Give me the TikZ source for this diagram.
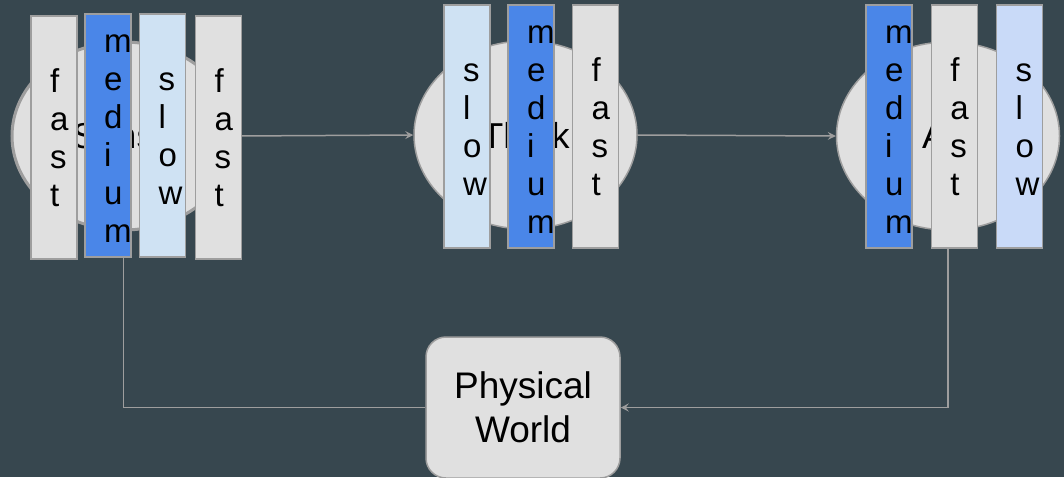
\documentclass[tikz,border=0pt]{standalone}
\usepackage{fontspec}
\setmainfont{Liberation Sans}
\usepackage{tikz}
\usetikzlibrary{arrows.meta,positioning,calc,shapes.geometric}
\definecolor{slate}{HTML}{37474F}
\definecolor{boxgray}{HTML}{E0E0E0}
\definecolor{edgegray}{HTML}{9E9E9E}
\definecolor{medblue}{HTML}{4A86E8}
\definecolor{paleblue}{HTML}{CFE2F3}
\definecolor{lightblue}{HTML}{C9DAF8}
\tikzstyle{stage}=[draw=edgegray,line width=1.5pt,fill=boxgray,ellipse,minimum width=223pt,minimum height=188pt,inner sep=0pt,font=\fontsize{36}{40}\selectfont]
\tikzstyle{bar}=[draw=edgegray,line width=1.5pt,minimum width=46pt,minimum height=243pt,inner xsep=19pt,inner ysep=0pt,text width=8pt,align=left,font=\fontsize{33}{38}\selectfont]
\tikzstyle{link}=[draw=edgegray,line width=1.5pt,-{Stealth[length=8pt,width=8pt,inset=3pt]}]
% first letter sits as high as an f
\newcommand{\tl}{\vphantom{f}}

\begin{document}
\begin{tikzpicture}[x=1pt,y=-1pt]
\useasboundingbox (0,0) rectangle (1064,477);
\fill[slate] (0,0) rectangle (1064,477);

% the three stages
\node [stage,line width=3pt] (sense) at (123.5,136) {Sense};
\node [stage] (think) at (525.5,135) {Think};
\node [stage] (act) at (948,136) {Act};

\node [draw=edgegray,line width=1.5pt,fill=boxgray,rounded corners=20pt,minimum width=194pt,minimum height=141pt,align=center,font=\fontsize{37}{44}\selectfont] (world) at (523,407.5) {Physical\\World};

% loop
\draw [link] (sense.east) -- (think.west);
\draw [link] (think.east) -- (act.west);
\draw [link] (act.south) |- (world.east);
\draw [link] (world.west) -| (sense.south);

% rate bars on top
\node [bar,fill=boxgray] (sfast1) at (54,137.5) {f\\a\\s\\t};
\node [bar,fill=medblue] (smed) at (108,135.5) {\tl m\\e\\d\\i\\u\\m};
\node [bar,fill=paleblue] (sslow) at (162.5,135.5) {\tl s\\l\\o\\w};
\node [bar,fill=boxgray] (sfast2) at (218.5,137.5) {f\\a\\s\\t};

\node [bar,fill=paleblue] (tslow) at (467,126.5) {\tl s\\l\\o\\w};
\node [bar,fill=medblue] (tmed) at (531,126.5) {\tl m\\e\\d\\i\\u\\m};
\node [bar,fill=boxgray] (tfast) at (595.7,126.5) {f\\a\\s\\t};

\node [bar,fill=medblue] (amed) at (889,126.5) {\tl m\\e\\d\\i\\u\\m};
\node [bar,fill=boxgray] (afast) at (954.3,126.5) {f\\a\\s\\t};
\node [bar,fill=lightblue] (aslow) at (1019.7,126.5) {\tl s\\l\\o\\w};
\end{tikzpicture}
\end{document}
